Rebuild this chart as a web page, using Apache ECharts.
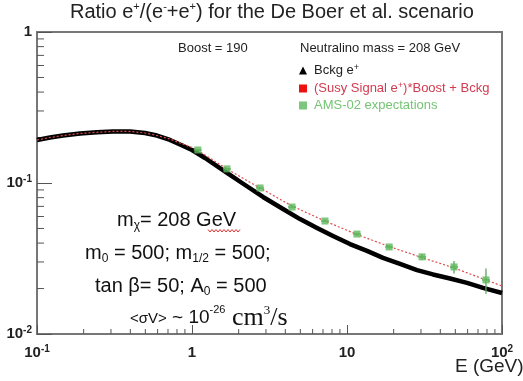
<!DOCTYPE html>
<html><head><meta charset="utf-8">
<script src="https://cdn.jsdelivr.net/npm/echarts@6/dist/echarts.min.js"></script>
<style>html,body{margin:0;padding:0;background:#fff}#c{width:523px;height:381px}</style>
</head><body><div id="c"></div>
<script>
// Background positron fraction (black triangles)
const bckgE = [0.1,0.1213,0.1472,0.1894,0.2438,0.3093,0.398,0.4973,0.5943,0.721,0.8367,1,1.213,1.682,2.198,2.872,3.865,4.976,6.405,8.124,10.45,13.46,17.07,21.98,28.29,35.87,46.19,59.46,75.42,100];
const bckgR = [0.1927,0.2001,0.2063,0.2127,0.2167,0.2194,0.2194,0.2144,0.2063,0.1927,0.1799,0.1654,0.1464,0.1165,0.097,0.0808,0.0673,0.0577,0.0504,0.0446,0.0394,0.0355,0.0319,0.0291,0.0265,0.0248,0.0233,0.0218,0.0202,0.0187];
// (Susy signal)*Boost + Bckg (red dotted)
const susyE = [0.1,0.1213,0.1472,0.1894,0.2438,0.3093,0.398,0.4973,0.5943,0.721,0.8367,1,1.093,1.682,2.746,4.42,7.2,11.6,18.66,30.4,49,78.7,100];
const susyR = [0.1927,0.2001,0.2063,0.2127,0.2167,0.2194,0.2194,0.2144,0.2063,0.1956,0.184,0.1718,0.1641,0.1238,0.0927,0.0704,0.056,0.0456,0.038,0.0321,0.0274,0.0228,0.0208];
// AMS-02 expectations (green squares) with errors
const amsE = [1.09,1.68,2.75,4.42,7.21,11.6,18.7,30.5,49,78.8];
const amsR = [0.1655,0.124,0.0927,0.0693,0.056,0.0459,0.0377,0.0324,0.0278,0.0228];
const amsErr = [0.002,0.0015,0.001,0.001,0.001,0.001,0.001,0.0014,0.0026,0.0043];
// Axis ticks
const xMinorTicks = [0.2,0.3,0.4,0.5,0.6,0.7,0.8,0.9,2,3,4,5,6,7,8,9,20,30,40,50,60,70,80,90];
const yMinorTicks = [0.02,0.03,0.04,0.05,0.06,0.07,0.08,0.09,0.2,0.3,0.4,0.5,0.6,0.7,0.8,0.9];

const X_MIN = 0.1, X_MAX = 100, Y_MIN = 0.01, Y_MAX = 1;
const SANS = 'Liberation Sans, Arial, sans-serif';
const SERIF = 'Liberation Serif, Times New Roman, serif';

function powLabel(v) {
  const e = Math.round(Math.log10(v));
  if (e === 0) return '{b|1}';
  if (e === 1) return '{b|10}';
  return '{b|10}{s|' + e + '}';
}
const labelRich = {
  b: {fontSize: 15, fontWeight: 'bold', fontFamily: SANS, color: '#222', lineHeight: 17, verticalAlign: 'middle'},
  s: {fontSize: 10, fontWeight: 'bold', fontFamily: SANS, color: '#222', lineHeight: 10, verticalAlign: 'top'}
};

const chart = echarts.init(document.getElementById('c'), null, {renderer: 'canvas'});

// wavy underline decoration
const wave = [];
for (let x = 208; x <= 240; x += 2) wave.push([x, (x/2) % 2 === 0 ? 229.5 : 232]);

const annoRich = {
  m: {fontSize: 20, fontFamily: SANS, fill: '#111', lineHeight: 24, verticalAlign: 'middle'},
  sub: {fontSize: 12, fontFamily: SANS, fill: '#111', lineHeight: 12, verticalAlign: 'bottom'}
};

const option = {
  backgroundColor: '#fff',
  animation: false,
  title: {
    text: '{t|Ratio e}{s|+}{t|/(e}{s|-}{t|+e}{s|+}{t|) for the De Boer et al. scenario}',
    left: 70, top: 1, padding: 0,
    textStyle: {
      fontWeight: 'normal',
      rich: {
        t: {fontSize: 20, fontWeight: 'normal', fontFamily: SANS, color: '#222', lineHeight: 22},
        s: {fontSize: 11, fontWeight: 'normal', fontFamily: SANS, color: '#222', lineHeight: 12, verticalAlign: 'top'}
      }
    }
  },
  grid: {left: 37, right: 21, top: 32, bottom: 47, show: true, borderColor: '#777', borderWidth: 2, backgroundColor: '#fff'},
  legend: {
    orient: 'vertical', left: 294, top: 58, itemWidth: 8, itemHeight: 8, itemGap: 4,
    selectedMode: false,
    data: [
      {name: 'bckg', icon: 'triangle'},
      {name: 'susy', icon: 'rect'},
      {name: 'ams', icon: 'rect'}
    ],
    formatter: function (n) {
      if (n === 'bckg') return '{sp|}{k|Bckg e}{ks|+}';
      if (n === 'susy') return '{sp|}{r|(Susy Signal e}{rs|+}{r|)*Boost + Bckg}';
      return '{sp|}{g|AMS-02 expectations}';
    },
    textStyle: {
      rich: {
        sp: {width: 2},
        k: {fontSize: 13, fontFamily: SANS, color: '#222', lineHeight: 15},
        ks: {fontSize: 9, fontFamily: SANS, color: '#222', lineHeight: 9, verticalAlign: 'top'},
        r: {fontSize: 13, fontFamily: SANS, color: '#d43a50', lineHeight: 15},
        rs: {fontSize: 9, fontFamily: SANS, color: '#d43a50', lineHeight: 9, verticalAlign: 'top'},
        g: {fontSize: 13, fontFamily: SANS, color: '#74c474', lineHeight: 15}
      }
    }
  },
  xAxis: {
    type: 'log', logBase: 10, min: X_MIN, max: X_MAX,
    axisLine: {show: false},
    splitLine: {show: false},
    axisTick: {show: true, inside: true, length: 9, lineStyle: {color: '#555', width: 1}},
    axisLabel: {margin: 10, formatter: powLabel, rich: labelRich, showMinLabel: true, showMaxLabel: true}
  },
  yAxis: {
    type: 'log', logBase: 10, min: Y_MIN, max: Y_MAX,
    axisLine: {show: false},
    splitLine: {show: false},
    axisTick: {show: true, inside: true, length: 15, lineStyle: {color: '#555', width: 1}},
    axisLabel: {margin: 5, formatter: powLabel, rich: labelRich, showMinLabel: true, showMaxLabel: true}
  },
  series: [
    {
      name: 'bckg', type: 'line', z: 3, smooth: false, showSymbol: false,
      data: bckgE.map((e, i) => [e, bckgR[i]]),
      itemStyle: {color: '#000'},
      lineStyle: {color: '#000', width: 4.5, join: 'round'}
    },
    {
      name: 'susy', type: 'line', z: 4, smooth: false, showSymbol: false,
      data: susyE.map((e, i) => [e, susyR[i]]),
      itemStyle: {color: '#ee1111'},
      lineStyle: {color: '#e04a4a', width: 1.2, type: [2, 2]}
    },
    {
      name: 'ams', type: 'scatter', z: 6, symbol: 'rect', symbolSize: 7,
      data: amsE.map((e, i) => [e, amsR[i]]),
      itemStyle: {color: '#5cb85c'}
    },
    {
      name: 'amsErr', type: 'custom', z: 5, silent: true,
      data: amsE.map((e, i) => [e, amsR[i], amsR[i] - amsErr[i], amsR[i] + amsErr[i]]),
      encode: {x: 0, y: [1, 2, 3]},
      renderItem: function (params, api) {
        const c = api.coord([api.value(0), api.value(1)]);
        const lo = api.coord([api.value(0), api.value(2)]);
        const hi = api.coord([api.value(0), api.value(3)]);
        return {type: 'group', children: [
          {type: 'line', shape: {x1: c[0], y1: lo[1], x2: c[0], y2: hi[1]}, style: {stroke: '#5aa85a', lineWidth: 1.3}},
          {type: 'line', shape: {x1: c[0] - 4, y1: c[1], x2: c[0] + 4, y2: c[1]}, style: {stroke: '#5aa85a', lineWidth: 1.3}}
        ]};
      }
    },
    {
      name: 'xMinor', type: 'custom', z: 2, silent: true,
      data: xMinorTicks.map(v => [v, Y_MIN]),
      renderItem: function (params, api) {
        const p = api.coord([api.value(0), api.value(1)]);
        return {type: 'line', shape: {x1: p[0], y1: p[1], x2: p[0], y2: p[1] - 5}, style: {stroke: '#555', lineWidth: 1}};
      }
    },
    {
      name: 'yMinor', type: 'custom', z: 2, silent: true,
      data: yMinorTicks.map(v => [X_MIN, v]),
      renderItem: function (params, api) {
        const p = api.coord([api.value(0), api.value(1)]);
        return {type: 'line', shape: {x1: p[0], y1: p[1], x2: p[0] + 7, y2: p[1]}, style: {stroke: '#555', lineWidth: 1}};
      }
    }
  ],
  graphic: [
    {type: 'text', left: 178, top: 42, style: {text: 'Boost = 190', font: '13px ' + SANS, fill: '#222'}},
    {type: 'text', left: 300, top: 42, style: {text: 'Neutralino mass = 208 GeV', font: '13px ' + SANS, fill: '#222'}},
    {type: 'text', left: 455, top: 357, style: {text: 'E (GeV)', font: '19px ' + SANS, fill: '#222'}},
    {type: 'text', left: 117, top: 210, z: 10, style: {text: '{m|m}{sub|χ}{m|= 208 GeV}', rich: annoRich}},
    {type: 'polyline', z: 10, shape: {points: wave}, style: {stroke: '#e03030', lineWidth: 1, fill: null}},
    {type: 'text', left: 85, top: 243, z: 10, style: {text: '{m|m}{sub|0}{m| = 500; m}{sub|1/2}{m| = 500;}', rich: annoRich}},
    {type: 'text', left: 95, top: 276, z: 10, style: {text: '{m|tan β= 50; A}{sub|0}{m| = 500}', rich: annoRich}},
    {type: 'text', left: 130, top: 304, z: 10, style: {
      text: '{a|<σV>}{n| ~ 10}{p|-26}{t| cm}{ts|3}{t|/s}',
      rich: {
        a: {fontSize: 15, fontFamily: SANS, fill: '#111', lineHeight: 28, verticalAlign: 'middle', padding: [2, 0, 0, 0]},
        n: {fontSize: 19, fontFamily: SANS, fill: '#111', lineHeight: 28, verticalAlign: 'middle'},
        p: {fontSize: 11, fontFamily: SANS, fill: '#111', lineHeight: 14, verticalAlign: 'top'},
        t: {fontSize: 26, fontFamily: SERIF, fill: '#111', lineHeight: 28, verticalAlign: 'middle'},
        ts: {fontSize: 13, fontFamily: SERIF, fill: '#111', lineHeight: 12, verticalAlign: 'top'}
      }}}
  ]
};
chart.setOption(option);
</script>
</body></html>
